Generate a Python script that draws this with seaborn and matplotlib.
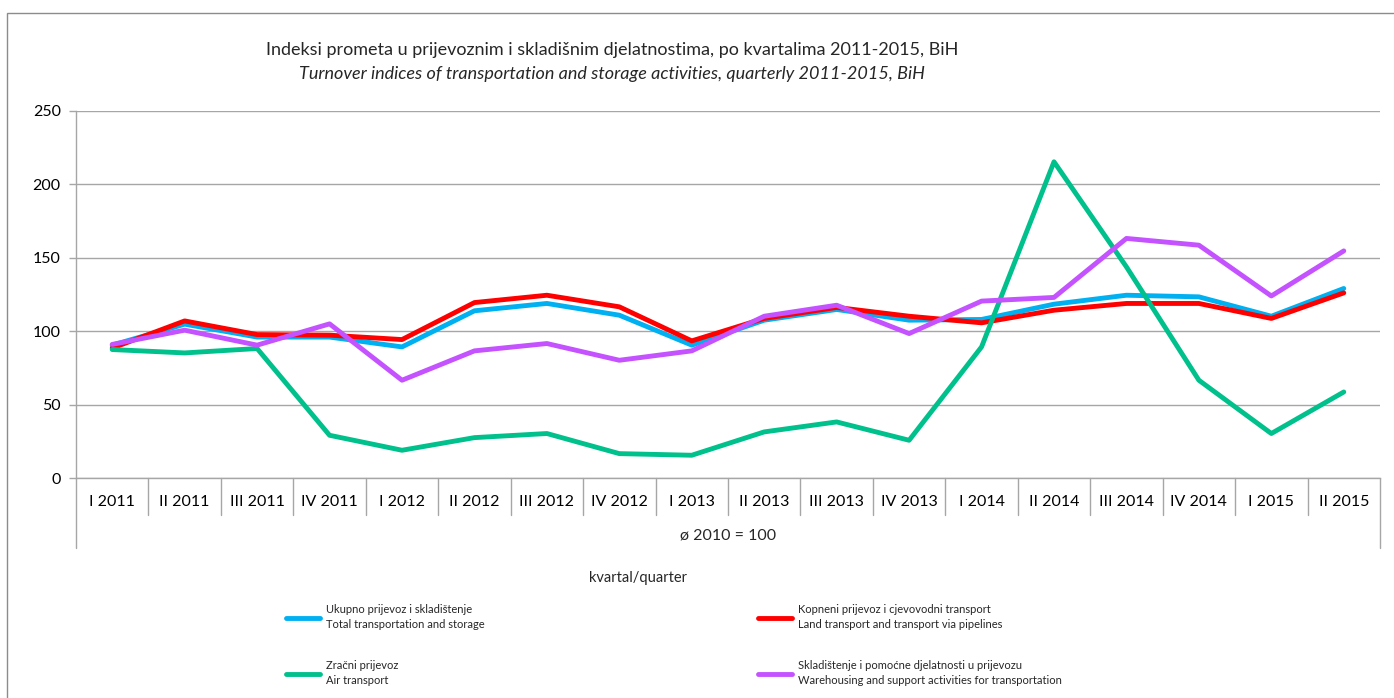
import numpy as np
import pandas as pd
import matplotlib.pyplot as plt
import seaborn as sns
from matplotlib.patches import Rectangle

# Data (index, ø 2010 = 100)
quarters = ["I 2011", "II 2011", "III 2011", "IV 2011",
            "I 2012", "II 2012", "III 2012", "IV 2012",
            "I 2013", "II 2013", "III 2013", "IV 2013",
            "I 2014", "II 2014", "III 2014", "IV 2014",
            "I 2015", "II 2015"]
total = [90.5, 104.8, 96.0, 96.0, 89.3, 113.9, 118.9, 110.9, 90.5,
         107.5, 114.8, 107.5, 108.0, 118.4, 124.5, 123.4, 110.2, 129.1]
land = [88.5, 107.0, 97.7, 97.3, 94.3, 119.5, 124.5, 116.6, 93.4,
        108.7, 116.2, 110.2, 105.7, 114.3, 118.9, 118.9, 108.7, 126.1]
air = [87.5, 85.2, 88.2, 29.1, 18.9, 27.5, 30.3, 16.6, 15.5,
       31.4, 38.2, 25.7, 89.3, 215.4, 143.8, 66.6, 30.3, 58.6]
warehouse = [91.0, 100.7, 90.5, 105.0, 66.6, 86.6, 91.6, 80.2, 86.6,
             110.2, 117.7, 98.4, 120.5, 123.0, 163.2, 158.6, 124.0, 154.7]

series_names = [
    "Ukupno prijevoz i skladištenje\nTotal transportation and storage",
    "Kopneni prijevoz i cjevovodni transport\nLand transport and transport via pipelines",
    "Zračni prijevoz\nAir transport",
    "Skladištenje i pomoćne djelatnosti u prijevozu\nWarehousing and support activities for transportation",
]
colors = ["#00B0F0", "#FF0000", "#00C08C", "#C452FF"]

df = pd.DataFrame({"quarter": quarters,
                   series_names[0]: total,
                   series_names[1]: land,
                   series_names[2]: air,
                   series_names[3]: warehouse})
df = df.melt(id_vars="quarter", var_name="series", value_name="value")

sns.set_theme(style="white")
plt.rcParams['font.family'] = ['Lato', 'DejaVu Sans']
grey = "#A6A6A6"

W, H = 1394, 698
fig = plt.figure(figsize=(W / 100, H / 100), dpi=100)
ax = fig.add_axes([76 / W, 1 - 478 / H, (1380 - 76) / W, 367 / H])

sns.lineplot(data=df, x="quarter", y="value", hue="series", hue_order=series_names,
             palette=colors, linewidth=3.5, sort=False, ax=ax)

# axes styling
ax.set_xlim(-0.5, len(quarters) - 0.5)
ax.set_ylim(0, 250)
ax.set_yticks(range(0, 251, 50))
ax.set_xticks(range(len(quarters)), quarters)
ax.set_xlabel("")
ax.set_ylabel("")
ax.tick_params(axis="x", length=0, pad=12, labelsize=11.5, colors="black")
ax.tick_params(axis="y", length=5, width=1, color=grey, direction="out", left=True,
               pad=6, labelsize=11.5, labelcolor="black")
ax.yaxis.grid(True, color=grey, linewidth=1)
ax.xaxis.grid(False)
for s in ["top", "right"]:
    ax.spines[s].set_visible(False)
for s in ["left", "bottom"]:
    ax.spines[s].set_color(grey)
    ax.spines[s].set_linewidth(1)

# category separators (multi-level axis look)
trans = ax.get_xaxis_transform()
bounds = np.arange(-0.5, len(quarters), 1.0)
for i, b in enumerate(bounds):
    low = -0.19 if i in (0, len(bounds) - 1) else -0.101
    ax.plot([b, b], [0, low], transform=trans, clip_on=False, color=grey, lw=1)
ax.text(0.5, -0.158, "ø 2010 = 100", transform=ax.transAxes, ha="center", va="center",
        fontsize=11.5)

# titles
fig.text(612 / W, 1 - 50 / H, "Indeksi prometa u prijevoznim i skladišnim djelatnostima, po kvartalima 2011-2015, BiH",
         ha="center", va="center", fontsize=13)
fig.text(612 / W, 1 - 74 / H, "Turnover indices of transportation and storage activities, quarterly 2011-2015, BiH",
         ha="center", va="center", fontsize=13, style="italic")
fig.text(638 / W, 1 - 578 / H, "kvartal/quarter", ha="center", va="center", fontsize=10.5)

# legend, 2x2 at the bottom
handles, labels = ax.get_legend_handles_labels()
ax.get_legend().remove()
spots = [(286, 610), (758, 610), (286, 666), (758, 666)]
for h, l, (x, y) in zip(handles, labels, spots):
    leg = fig.legend([h], [l], loc="center left", bbox_to_anchor=(x / W, 1 - (y + 7) / H),
                     frameon=False, fontsize=8, handlelength=3.1, handletextpad=0.5,
                     borderpad=0, borderaxespad=0)
    for t in leg.get_texts():
        t.set_linespacing(1.45)

# outer chart border
fig.patches.append(Rectangle((7 / W, -0.1), 1.2, 1 - 13 / H + 0.1, transform=fig.transFigure,
                             fill=False, edgecolor="#8C8C8C", lw=1))

fig.savefig("out.png", dpi=100)
